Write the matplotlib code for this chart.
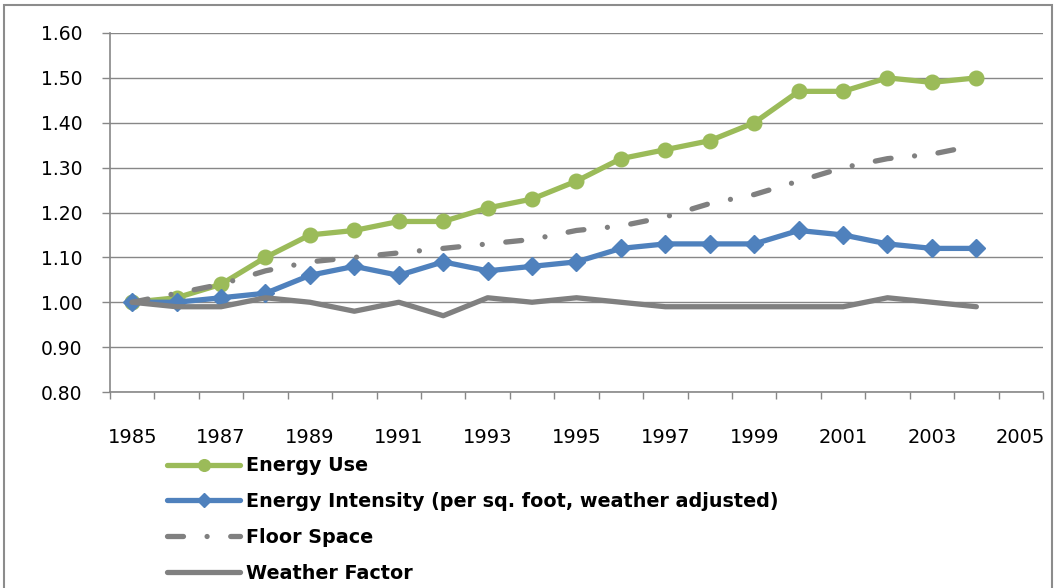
import numpy as np
import matplotlib
matplotlib.use("Agg")
import matplotlib.pyplot as plt
from matplotlib.patches import Rectangle

plt.rcParams['font.family'] = ['DejaVu Sans']
plt.rcParams['lines.scale_dashes'] = False

# === data ===
years = list(range(1985, 2005))
energy_use = [1.00, 1.01, 1.04, 1.10, 1.15, 1.16, 1.18, 1.18, 1.21, 1.23,
              1.27, 1.32, 1.34, 1.36, 1.40, 1.47, 1.47, 1.50, 1.49, 1.50]
energy_intensity = [1.00, 1.00, 1.01, 1.02, 1.06, 1.08, 1.06, 1.09, 1.07, 1.08,
                    1.09, 1.12, 1.13, 1.13, 1.13, 1.16, 1.15, 1.13, 1.12, 1.12]
floor_space = [1.00, 1.02, 1.04, 1.07, 1.09, 1.10, 1.11, 1.12, 1.13, 1.14,
               1.16, 1.17, 1.19, 1.22, 1.24, 1.27, 1.30, 1.32, 1.33, 1.35]
weather_factor = [1.00, 0.99, 0.99, 1.01, 1.00, 0.98, 1.00, 0.97, 1.01, 1.00,
                  1.01, 1.00, 0.99, 0.99, 0.99, 0.99, 0.99, 1.01, 1.00, 0.99]
year_labels = list(range(1985, 2006, 2))
y_ticks = [0.80, 0.90, 1.00, 1.10, 1.20, 1.30, 1.40, 1.50, 1.60]

GREEN = '#9BBB59'
BLUE = '#4F81BD'
GRAY = '#808080'
GRID = '#878787'

fig = plt.figure(figsize=(10.55, 5.88), dpi=100)
ax = fig.add_axes([110 / 1055, 1 - 392 / 588, 933 / 1055, 359 / 588])

ax.plot(years, energy_use, color=GREEN, lw=3.8, marker='o', ms=10.5,
        label='Energy Use', solid_capstyle='round')
ax.plot(years, energy_intensity, color=BLUE, lw=3.8, marker='D', ms=9.5,
        label='Energy Intensity (per sq. foot, weather adjusted)', solid_capstyle='round')
fs, = ax.plot(years, floor_space, color=GRAY, lw=3.8, label='Floor Space',
              dash_capstyle='round')
fs.set_dashes((11.5, 17, 0.01, 17))
ax.plot(years, weather_factor, color=GRAY, lw=3.8, label='Weather Factor',
        solid_capstyle='round')

ax.set_xlim(1984.5, 2005.5)
ax.set_ylim(0.80, 1.60)
ax.set_yticks(y_ticks)
ax.set_yticklabels([f'{v:.2f}' for v in y_ticks])
ax.yaxis.grid(True, color=GRID, lw=1.0)
ax.set_axisbelow(True)

# category boundaries get the tick marks, labels sit on the odd years
ax.set_xticks(np.arange(1984.5, 2006, 1.0))
ax.set_xticklabels([])
ax.set_xticks(year_labels, minor=True)
ax.set_xticklabels([str(y) for y in year_labels], minor=True)
ax.tick_params(axis='x', which='major', length=5, color=GRID, width=1)
ax.tick_params(axis='x', which='minor', length=0, pad=26, labelsize=14)
ax.tick_params(axis='y', length=6, color=GRID, width=1, pad=14, labelsize=13.5)

for s in ['top', 'right']:
    ax.spines[s].set_visible(False)
for s in ['left', 'bottom']:
    ax.spines[s].set_color(GRID)
    ax.spines[s].set_linewidth(1.2)

leg = fig.legend(loc='upper left', bbox_to_anchor=(150 / 1055, 1 - 439 / 588),
                 frameon=False, handlelength=3.8, handletextpad=0.3,
                 labelspacing=0.88, markerscale=0.8, numpoints=1,
                 prop={'weight': 'bold', 'size': 13.8})

fig.patches.append(Rectangle((4 / 1055, -0.01), 1048 / 1055, 1 - 5 / 588 + 0.01,
                             transform=fig.transFigure, fill=False,
                             edgecolor='#8C8C8C', lw=1.5))

fig.savefig('out.png', dpi=100)
